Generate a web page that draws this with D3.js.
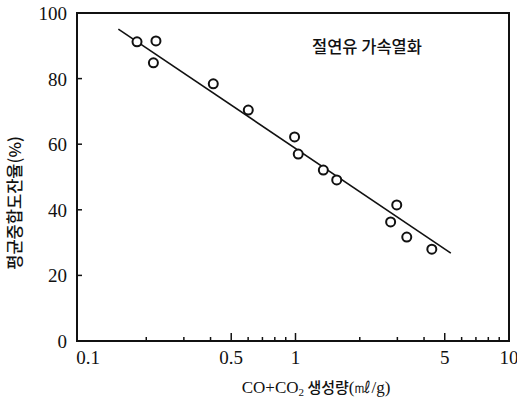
<!DOCTYPE html>
<html>
<head>
<meta charset="utf-8">
<script src="https://cdn.jsdelivr.net/npm/d3@7"></script>
<style>
  body { margin:0; background:#fff; }
  text { fill:#111; }
</style>
</head>
<body>
<div id="chart-area"></div>
<script>
// CO+CO2 generation vs. remaining DP ratio
var gasAmount = [0.181, 0.222, 0.216, 0.412, 0.601, 0.99, 1.03, 1.35, 1.56, 2.98, 2.79, 3.32, 4.35];
var dpRatio   = [91.2, 91.5, 84.8, 78.4, 70.4, 62.2, 57.0, 52.1, 49.1, 41.5, 36.3, 31.7, 28.0];
var fitX = [0.148, 5.34];
var fitY = [95.1, 26.8];
var xTickLabels = [0.1, 0.5, 1, 5, 10];
var xMinorTicks = [0.2, 0.3, 0.4, 0.5, 0.6, 0.7, 0.8, 0.9, 1, 2, 3, 4, 5, 6, 7, 8, 9];
var yTickLabels = [0, 20, 40, 60, 80, 100];

var W = 517, H = 407;
var svg = d3.select("#chart-area")
	.append("svg")
		.attr("width", W)
		.attr("height", H);

var x = d3.scaleLog().domain([0.1, 10]).range([82, 509]);
var y = d3.scaleLinear().domain([0, 100]).range([341, 13]);

var serif = "'Liberation Serif', 'DejaVu Serif', serif";
var kr = "'Noto Sans CJK KR', sans-serif";

// frame
svg.append("rect")
	.attr("x", 77)
	.attr("y", y(100))
	.attr("width", x(10) - 77)
	.attr("height", y(0) - y(100))
	.attr("fill", "none")
	.attr("stroke", "#111")
	.attr("stroke-width", 2);

// x ticks (inward)
svg.selectAll(".xtick")
	.data(xMinorTicks)
	.enter().append("line")
		.attr("x1", function(d){ return x(d); })
		.attr("x2", function(d){ return x(d); })
		.attr("y1", y(0))
		.attr("y2", function(d){ return y(0) - ((d == 0.5 || d == 1 || d == 5) ? 8 : 4); })
		.attr("stroke", "#111")
		.attr("stroke-width", 1.5);

svg.selectAll(".xlab")
	.data(xTickLabels)
	.enter().append("text")
		.attr("x", function(d){ return x(d) + (d == 0.1 ? 6 : 0); })
		.attr("y", 364)
		.attr("text-anchor", "middle")
		.attr("font-family", serif)
		.attr("font-size", "19px")
		.text(function(d){ return d; });

// y ticks (inward)
svg.selectAll(".ytick")
	.data(yTickLabels.slice(1, 5))
	.enter().append("line")
		.attr("x1", 77)
		.attr("x2", 82)
		.attr("y1", function(d){ return y(d); })
		.attr("y2", function(d){ return y(d); })
		.attr("stroke", "#111")
		.attr("stroke-width", 1.5);

svg.selectAll(".ylab")
	.data(yTickLabels)
	.enter().append("text")
		.attr("x", 67)
		.attr("y", function(d){ return y(d) + 7; })
		.attr("text-anchor", "end")
		.attr("font-family", serif)
		.attr("font-size", "19px")
		.text(function(d){ return d; });

// fitted line
var line = d3.line()
	.x(function(d){ return x(d[0]); })
	.y(function(d){ return y(d[1]); });

svg.append("path")
	.datum(d3.zip(fitX, fitY))
	.attr("d", line)
	.attr("fill", "none")
	.attr("stroke", "#111")
	.attr("stroke-width", 1.6);

// data points
svg.selectAll("circle")
	.data(d3.zip(gasAmount, dpRatio))
	.enter().append("circle")
		.attr("cx", function(d){ return x(d[0]); })
		.attr("cy", function(d){ return y(d[1]); })
		.attr("r", 4.5)
		.attr("fill", "#fff")
		.attr("stroke", "#111")
		.attr("stroke-width", 2);

// inner title
svg.append("text")
	.attr("x", 367)
	.attr("y", 53)
	.attr("text-anchor", "middle")
	.attr("font-family", kr)
	.attr("font-weight", 500)
	.attr("font-size", "16.5px")
	.text("절연유 가속열화");

// x axis title
var xt = svg.append("text")
	.attr("x", 316)
	.attr("y", 393)
	.attr("text-anchor", "middle")
	.attr("font-size", "17px");
xt.append("tspan").attr("font-family", serif).text("CO+CO");
xt.append("tspan").attr("font-family", serif).attr("font-size", "11px").attr("dy", 3).text("2");
xt.append("tspan").attr("font-family", kr).attr("font-weight", 500).attr("font-size", "15px").attr("dy", -3).text(" 생성량");
xt.append("tspan").attr("font-family", serif).text("(㎖/g)");

// y axis title
svg.append("text")
	.attr("transform", "translate(21,203) rotate(-90)")
	.attr("text-anchor", "middle")
	.attr("font-family", kr)
	.attr("font-weight", 500)
	.attr("font-size", "16.5px")
	.text("평균중합도잔율(%)");
</script>
</body>
</html>
